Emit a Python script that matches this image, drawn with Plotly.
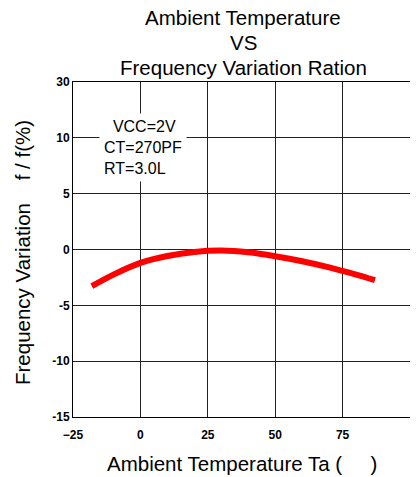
import plotly.graph_objects as go

# Data
temperature = [-18, -10, 0, 10, 20, 30, 40, 50, 60, 70, 80, 87]
freq_variation = [-3.28, -2.25, -1.2, -0.58, -0.22, -0.1, -0.25, -0.6, -1.05, -1.6, -2.25, -2.75]

x_ticks = [-25, 0, 25, 50, 75, 100]
y_tickvals = [-15, -10, -5, 0, 5, 10, 15]
y_ticktext = ["-15", "-10", "-5", "0", "5", "10", "30"]

title_lines = ["Ambient Temperature", "VS", "Frequency Variation Ration"]

FONT = "Liberation Sans, Arial, sans-serif"

# figure geometry (page body has an 8px margin)
W, H = 410, 469
ML, MR, MT, MB = 65, 8, 74, 60
PW, PH = W - ML - MR, H - MT - MB


def px_x(fx):
    return (fx - ML) / PW


def px_y(fy):
    return (H - MB - fy) / PH


fig = go.Figure()
fig.add_trace(go.Scatter(
    x=temperature, y=freq_variation, mode="lines",
    line=dict(color="#ff0000", width=6, shape="spline", smoothing=1.0),
    showlegend=False, hoverinfo="skip",
))

axis_common = dict(
    showgrid=True, gridcolor="#222222", gridwidth=1,
    showline=True, linecolor="#000000", linewidth=1, mirror=True,
    zeroline=False, ticks="",
    tickfont=dict(family=FONT, size=12, color="#000000", weight="bold"),
)

annotations = []
for i, line in enumerate(title_lines):
    annotations.append(dict(
        text=line, x=px_x(235), y=px_y(9 + 25 * i), xref="paper", yref="paper",
        xanchor="center", yanchor="middle", showarrow=False,
        font=dict(family=FONT, size=20.5, color="#000000"),
    ))

annotations += [
    dict(
        text="&nbsp;&nbsp;VCC=2V<br>CT=270PF<br>RT=3.0L",
        x=-15.2, y=12.2, xref="x", yref="y", xanchor="left", yanchor="top",
        align="left", showarrow=False, bgcolor="white", borderpad=4,
        font=dict(family=FONT, size=16, color="#000000"),
    ),
    dict(
        text="Frequency Variation&nbsp;&nbsp;&nbsp;&nbsp;f / f(%)",
        x=px_x(14), xref="paper", y=px_y(245), yref="paper",
        xanchor="center", yanchor="middle", textangle=-90, showarrow=False,
        font=dict(family=FONT, size=20.5, color="#000000"),
    ),
    dict(
        text="Ambient Temperature Ta (&nbsp;&nbsp;&nbsp;&nbsp;&nbsp;)",
        x=px_x(234), xref="paper", y=px_y(455), yref="paper",
        xanchor="center", yanchor="middle", showarrow=False,
        font=dict(family=FONT, size=20.5, color="#000000"),
    ),
]

fig.update_layout(
    width=W, height=H,
    margin=dict(l=ML, r=MR, t=MT, b=MB),
    paper_bgcolor="white", plot_bgcolor="white",
    font=dict(family=FONT, color="#000000"),
    xaxis=dict(range=[-25, 100], tickvals=x_ticks, ticklabelstandoff=7, **axis_common),
    yaxis=dict(range=[-15, 15], tickvals=y_tickvals, ticktext=y_ticktext, **axis_common),
    annotations=annotations,
)

fig.write_html("out.html")
